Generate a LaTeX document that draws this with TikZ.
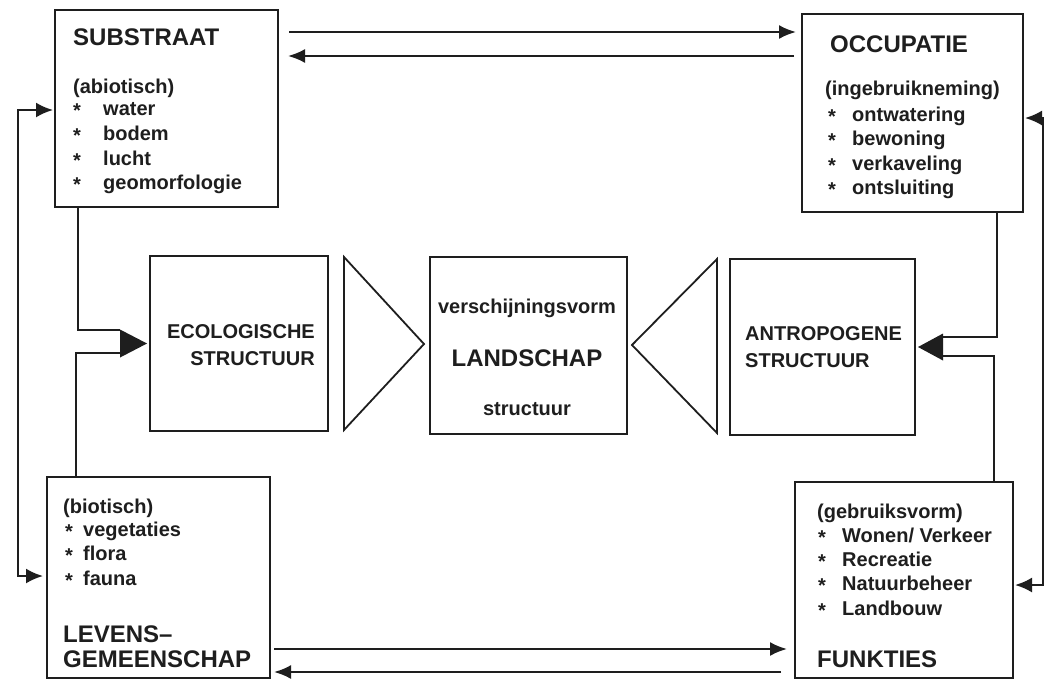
\documentclass[tikz,border=0pt]{standalone}
\usepackage{fontspec}
\setmainfont{Liberation Sans}
\usetikzlibrary{arrows.meta}
\definecolor{ink}{RGB}{30,30,30}
\begin{document}
\begin{tikzpicture}[x=1pt,y=-1pt,
  box/.style={draw=ink, line width=2.4pt, inner sep=0pt, outer sep=0pt},
  head/.style={font=\fontsize{24}{26}\selectfont\bfseries, text=ink, anchor=base west, inner sep=0pt},
  item/.style={font=\fontsize{20}{22}\selectfont\bfseries, text=ink, anchor=base west, inner sep=0pt},
  mid/.style={font=\fontsize{20}{22}\selectfont\bfseries, text=ink, inner sep=0pt},
  big/.style={font=\fontsize{24}{26}\selectfont\bfseries, text=ink, inner sep=0pt},
  conn/.style={draw=ink, line width=2.2pt},
  arr/.style={conn, -{Latex[length=17pt,width=14pt]}},
  darr/.style={conn, {Latex[length=17pt,width=15pt]}-{Latex[length=17pt,width=15pt]}},
  tri/.style={draw=ink, line width=1.8pt, line join=miter}
]
\useasboundingbox (0,0) rectangle (1046,681);
\fill[white] (0,0) rectangle (1046,681);

% boxes
\node[box, minimum width=223pt, minimum height=197pt] (sub) at (166.5,108.5) {};
\node[box, minimum width=221pt, minimum height=198pt] (occ) at (912.5,113) {};
\node[box, minimum width=223pt, minimum height=201pt] (lev) at (158.5,577.5) {};
\node[box, minimum width=218pt, minimum height=196pt] (fun) at (904,580) {};
\node[box, minimum width=178pt, minimum height=175pt] (eco) at (239,343.5) {};
\node[box, minimum width=197pt, minimum height=177pt] (land) at (528.5,345.5) {};
\node[box, minimum width=185pt, minimum height=176pt] (ant) at (822.5,347) {};

% triangles
\draw[tri] (344,257) -- (344,430) -- (424,344) -- cycle;
\draw[tri] (717,259) -- (717,433) -- (632,345) -- cycle;

% SUBSTRAAT texts
\node[head] (tSub) at (73,45.5) {SUBSTRAAT};
\node[item] (tAb) at (73,93) {(abiotisch)};
\node[item] (sS1) at (73,117) {*};
\node[item] (wS1) at (103,115) {water};
\node[item] (sS2) at (73,142) {*};
\node[item] (wS2) at (103,140) {bodem};
\node[item] (sS3) at (73,167) {*};
\node[item] (wS3) at (103,165) {lucht};
\node[item] (sS4) at (73,191) {*};
\node[item] (wS4) at (103,189) {geomorfologie};

% OCCUPATIE texts
\node[head] (tOcc) at (830,52) {OCCUPATIE};
\node[item] (tIng) at (825,95) {(ingebruikneming)};
\node[item] (sO1) at (828,123) {*};
\node[item] (wO1) at (852,121) {ontwatering};
\node[item] (sO2) at (828,147) {*};
\node[item] (wO2) at (852,145) {bewoning};
\node[item] (sO3) at (828,172) {*};
\node[item] (wO3) at (852,170) {verkaveling};
\node[item] (sO4) at (828,196) {*};
\node[item] (wO4) at (852,194) {ontsluiting};

% LEVENSGEMEENSCHAP texts
\node[item] (tBio) at (63,513) {(biotisch)};
\node[item] (sL1) at (65,538) {*};
\node[item] (wL1) at (83,536) {vegetaties};
\node[item] (sL2) at (65,562) {*};
\node[item] (wL2) at (83,560) {flora};
\node[item] (sL3) at (65,587) {*};
\node[item] (wL3) at (83,585) {fauna};
\node[head] (tLev1) at (63,642) {LEVENS–};
\node[head] (tLev2) at (63,667) {GEMEENSCHAP};

% FUNKTIES texts
\node[item] (tGeb) at (817,518) {(gebruiksvorm)};
\node[item] (sF1) at (818,544) {*};
\node[item] (wF1) at (842,542) {Wonen/ Verkeer};
\node[item] (sF2) at (818,568) {*};
\node[item] (wF2) at (842,566) {Recreatie};
\node[item] (sF3) at (818,592) {*};
\node[item] (wF3) at (842,590) {Natuurbeheer};
\node[item] (sF4) at (818,617) {*};
\node[item] (wF4) at (842,615) {Landbouw};
\node[head] (tFun) at (817,667) {FUNKTIES};

% middle texts
\node[mid, anchor=base east] (tEco1) at (315,338) {ECOLOGISCHE};
\node[mid, anchor=base east] (tEco2) at (315,365) {STRUCTUUR};
\node[mid, anchor=base] (tVer) at (527,313) {verschijningsvorm};
\node[big, anchor=base] (tLand) at (527,366) {LANDSCHAP};
\node[mid, anchor=base] (tStr) at (527,415) {structuur};
\node[mid, anchor=base west] (tAnt1) at (745,340) {ANTROPOGENE};
\node[mid, anchor=base west] (tAnt2) at (745,367) {STRUCTUUR};

% horizontal arrow pairs
\coordinate (Y1) at (0,32);
\coordinate (Y2) at (0,56);
\coordinate (Y3) at (0,649);
\coordinate (Y4) at (0,672);
\draw[arr, shorten <=11pt, shorten >=6pt] (sub.east |- Y1) -- (occ.west |- Y1);
\draw[arr, shorten <=8pt, shorten >=10pt] (occ.west |- Y2) -- (sub.east |- Y2);
\draw[arr, shorten <=4pt, shorten >=8pt] (lev.east |- Y3) -- (fun.west |- Y3);
\draw[arr, shorten <=14pt, shorten >=4pt] (fun.west |- Y4) -- (lev.east |- Y4);

% outer loops
\coordinate (L1) at (18,110);
\coordinate (L2) at (18,576);
\draw[darr, shorten <=2pt, shorten >=4pt] (sub.west |- L1) -- (L1) -- (L2) -- (lev.west |- L2);
\coordinate (R1) at (1043,118);
\coordinate (R2) at (1043,585);
\draw[darr, shorten <=2pt, shorten >=2pt] (occ.east |- R1) -- (R1) -- (R2) -- (fun.east |- R2);

% fat arrow into ECOLOGISCHE STRUCTUUR
\coordinate (eTip) at ([xshift=-3pt]eco.west);
\coordinate (eBase) at ([xshift=-30pt]eco.west);
\coordinate (eB1) at (78,330);
\coordinate (eB2) at (76,353);
\draw[conn] (sub.south -| eB1) -- (eB1) -- (eB1 -| eBase);
\draw[conn] (lev.north -| eB2) -- (eB2) -- (eB2 -| eBase);
\fill[ink] (eTip) -- ([yshift=-14pt]eBase) -- ([yshift=14pt]eBase) -- cycle;

% fat arrow into ANTROPOGENE STRUCTUUR
\coordinate (aTip) at ([xshift=3pt]ant.east);
\coordinate (aBase) at ([xshift=28pt]ant.east);
\coordinate (aB1) at (997,337);
\coordinate (aB2) at (994,356);
\draw[conn] (occ.south -| aB1) -- (aB1) -- (aB1 -| aBase);
\draw[conn] (fun.north -| aB2) -- (aB2) -- (aB2 -| aBase);
\fill[ink] (aTip) -- ([yshift=-13.5pt]aBase) -- ([yshift=13.5pt]aBase) -- cycle;
\end{tikzpicture}
\end{document}
